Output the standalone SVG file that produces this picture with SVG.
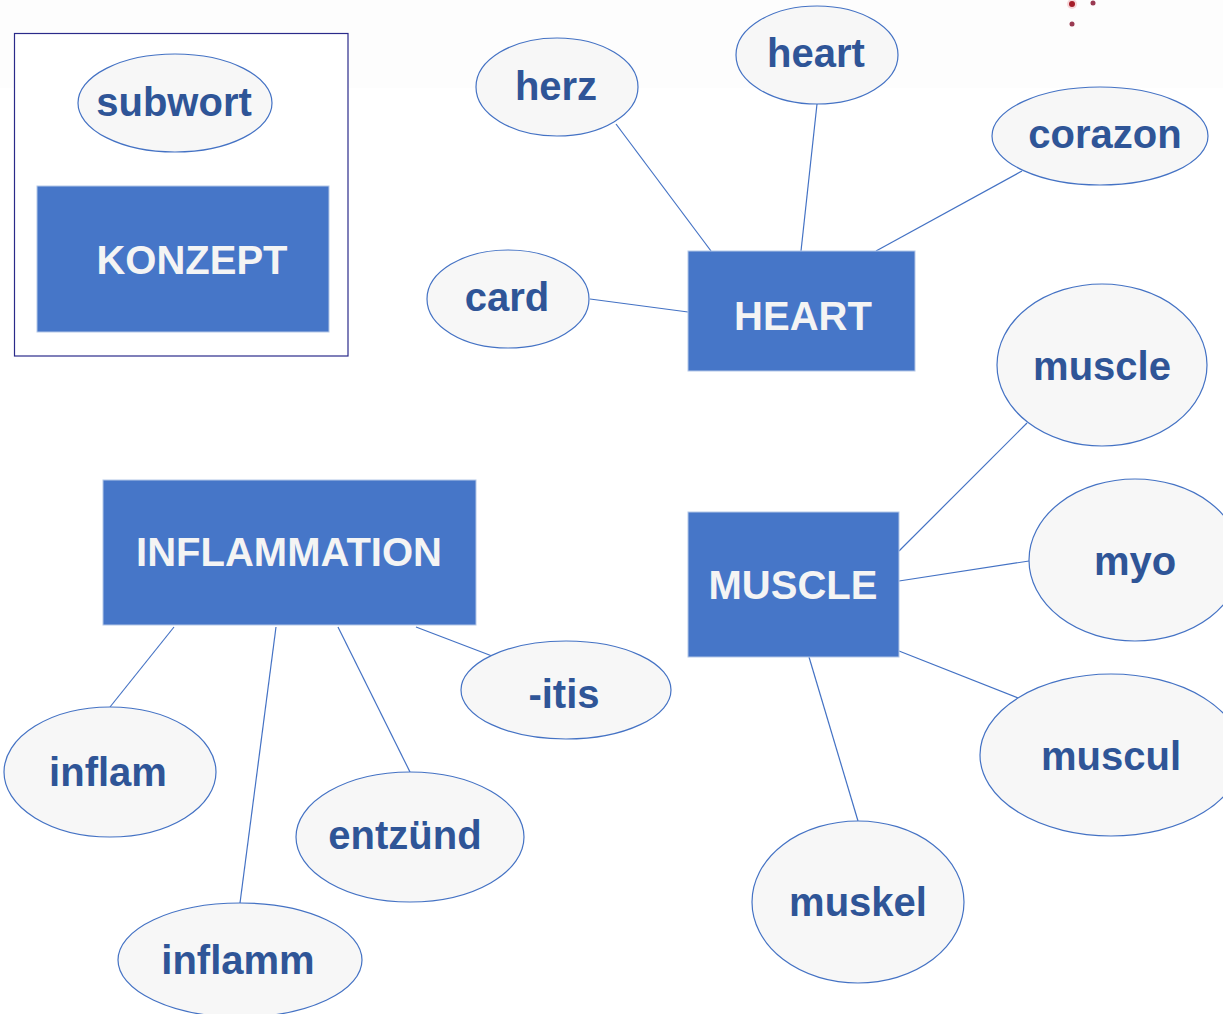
<svg xmlns="http://www.w3.org/2000/svg" width="1223" height="1014" viewBox="0 0 1223 1014">
<style>
.ell{fill:#f7f7f7;stroke:#4472c4;stroke-width:1.2}
.box{fill:#4676c8;stroke:#b4c7e7;stroke-width:1}
.lbl{font-family:"Liberation Sans",Arial,sans-serif;font-weight:bold;font-size:40px;fill:#2f5597;text-anchor:middle}
.cap{font-family:"Liberation Sans",Arial,sans-serif;font-weight:bold;font-size:40px;fill:#f4f4f4;text-anchor:middle}
.con line{stroke:#4472c4;stroke-width:1.2}
</style>
<rect width="1223" height="1014" fill="#ffffff"/>
<rect width="1223" height="88" fill="#fdfdfd"/>
<g id="decor">
<circle cx="1072" cy="4" r="5" fill="#f6d6d9"/>
<circle cx="1072" cy="4" r="3" fill="#a51c28"/>
<circle cx="1093" cy="3" r="2.5" fill="#9a3a52"/>
<circle cx="1072" cy="24" r="2.5" fill="#9a3a52"/>
</g>
<g id="legend">
<rect x="14.5" y="33.5" width="333.5" height="322.5" fill="#ffffff" stroke="#2a2a8a" stroke-width="1.2"/>
</g>
<g class="con" id="connectors">
<line x1="616" y1="124" x2="711" y2="251"/>
<line x1="817" y1="104" x2="801" y2="251"/>
<line x1="1022" y1="171" x2="876" y2="251"/>
<line x1="590" y1="299" x2="688" y2="312"/>
<line x1="899" y1="551" x2="1027" y2="423"/>
<line x1="899" y1="581" x2="1029" y2="561"/>
<line x1="899" y1="651" x2="1018" y2="698"/>
<line x1="809" y1="657" x2="858" y2="821"/>
<line x1="174" y1="627" x2="110" y2="707"/>
<line x1="276" y1="627" x2="240" y2="903"/>
<line x1="338" y1="627" x2="410" y2="772"/>
<line x1="416" y1="627" x2="492" y2="656"/>
</g>
<g id="subwort"><ellipse class="ell" cx="175" cy="103" rx="97" ry="49"/><text class="lbl" x="174" y="116">subwort</text></g>
<g id="konzept"><rect class="box" x="37" y="186" width="292" height="146"/><text class="cap" x="192" y="274">KONZEPT</text></g>
<g id="heart-box"><rect class="box" x="688" y="251" width="227" height="120"/><text class="cap" x="803" y="330">HEART</text></g>
<g id="herz"><ellipse class="ell" cx="557" cy="87" rx="81" ry="49"/><text class="lbl" x="556" y="100">herz</text></g>
<g id="heart"><ellipse class="ell" cx="817" cy="55" rx="81" ry="49"/><text class="lbl" x="816" y="67">heart</text></g>
<g id="corazon"><ellipse class="ell" cx="1100" cy="136" rx="108" ry="49"/><text class="lbl" x="1105" y="148">corazon</text></g>
<g id="card"><ellipse class="ell" cx="508" cy="299" rx="81" ry="49"/><text class="lbl" x="507" y="311">card</text></g>
<g id="muscle-box"><rect class="box" x="688" y="512" width="211" height="145"/><text class="cap" x="793" y="599">MUSCLE</text></g>
<g id="muscle"><ellipse class="ell" cx="1102" cy="365" rx="105" ry="81"/><text class="lbl" x="1102" y="380">muscle</text></g>
<g id="myo"><ellipse class="ell" cx="1135" cy="560" rx="106" ry="81"/><text class="lbl" x="1135" y="575">myo</text></g>
<g id="muscul"><ellipse class="ell" cx="1111" cy="755" rx="131" ry="81"/><text class="lbl" x="1111" y="770">muscul</text></g>
<g id="muskel"><ellipse class="ell" cx="858" cy="902" rx="106" ry="81"/><text class="lbl" x="858" y="916">muskel</text></g>
<g id="inflammation-box"><rect class="box" x="103" y="480" width="373" height="145"/><text class="cap" x="289" y="566">INFLAMMATION</text></g>
<g id="itis"><ellipse class="ell" cx="566" cy="690" rx="105" ry="49"/><text class="lbl" x="564" y="708">-itis</text></g>
<g id="inflam"><ellipse class="ell" cx="110" cy="772" rx="106" ry="65"/><text class="lbl" x="108" y="786">inflam</text></g>
<g id="entzuend"><ellipse class="ell" cx="410" cy="837" rx="114" ry="65"/><text class="lbl" x="405" y="849">entzünd</text></g>
<g id="inflamm"><ellipse class="ell" cx="240" cy="960" rx="122" ry="57"/><text class="lbl" x="238" y="974">inflamm</text></g>
</svg>
